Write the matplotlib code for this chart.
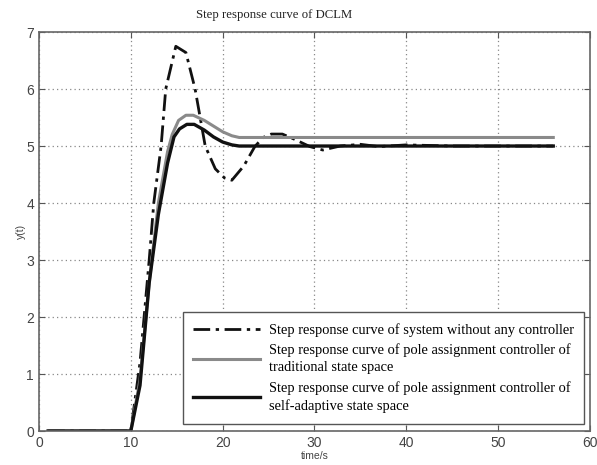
import numpy as np
import matplotlib
matplotlib.use('Agg')
import matplotlib.pyplot as plt

# step responses
t_open = [1, 10, 11, 12, 12.5, 13.3, 13.8, 14.9, 16.0, 17.0, 18.1, 19.2, 20.2, 21.0,
          22.3, 23.5, 24.4, 25.3, 26.5, 27.8, 29.5, 30.9, 32.8, 35, 37, 40, 45, 56]
y_open = [0, 0, 1.2, 3.0, 4.0, 5.0, 6.0, 6.75, 6.64, 6.0, 5.0, 4.6, 4.44, 4.40,
          4.65, 4.99, 5.15, 5.21, 5.21, 5.12, 4.99, 4.93, 5.0, 5.03, 4.99, 5.02, 5.0, 5.0]

t_trad = [1, 10, 11, 12, 13, 14, 14.5, 15.2, 16.0, 16.8, 18, 19, 20, 21, 21.8, 56]
y_trad = [0, 0, 0.9, 2.6, 4.0, 4.9, 5.2, 5.45, 5.54, 5.54, 5.45, 5.35, 5.25, 5.18, 5.15, 5.15]

t_adap = [1, 10, 11, 12, 13, 14, 14.7, 15.3, 16.1, 16.9, 18, 19, 20, 21, 21.8, 56]
y_adap = [0, 0, 0.8, 2.6, 3.8, 4.7, 5.16, 5.3, 5.38, 5.38, 5.28, 5.16, 5.07, 5.02, 5.0, 5.0]

labels = ['Step response curve of system without any controller',
          'Step response curve of pole assignment controller of\ntraditional state space',
          'Step response curve of pole assignment controller of\nself-adaptive state space']

serif = ['Liberation Serif', 'DejaVu Serif']
sans = ['Liberation Sans', 'DejaVu Sans']

fig = plt.figure(figsize=(5.97, 4.65), dpi=100)
ax = fig.add_axes([0.0653, 0.0731, 0.9230, 0.858])

ax.plot(t_open, y_open, color='#111111', lw=2.0, linestyle=(0, (6, 2, 1.2, 2)), label=labels[0])
ax.plot(t_trad, y_trad, color='#8a8a8a', lw=2.2, label=labels[1])
ax.plot(t_adap, y_adap, color='#111111', lw=2.4, label=labels[2])

ax.set_xlim(0, 60)
ax.set_ylim(0, 7)
ax.set_xticks(np.arange(0, 61, 10))
ax.set_yticks(np.arange(0, 8, 1))
ax.grid(True, linestyle=(0, (1, 2.5)), color='#888888', lw=0.9)
ax.tick_params(direction='in', top=True, right=True, length=4, colors='#555555',
               labelsize=10, labelcolor='#444444')
for lab in ax.get_xticklabels() + ax.get_yticklabels():
    lab.set_family(sans)
for s in ax.spines.values():
    s.set_color('#666666')
    s.set_linewidth(1.2)

ax.set_xlabel('time/s', fontsize=7.5, family=sans, color='#444444', labelpad=1)
ax.set_ylabel('y(t)', fontsize=7.5, family=sans, color='#444444', labelpad=0)

fig.text(0.46, 0.968, 'Step response curve of DCLM', ha='center', va='center',
         fontsize=9.2, family=serif, color='#222222')

leg = ax.legend(loc='lower right', bbox_to_anchor=(0.995, 0.01), fancybox=False,
                framealpha=1, edgecolor='#555555', handlelength=4.6,
                prop={'family': serif, 'size': 10.4}, borderpad=0.75,
                labelspacing=0.45, handletextpad=0.6, borderaxespad=0.2)
leg.get_frame().set_linewidth(1.0)
for txt in leg.get_texts():
    txt.set_linespacing(1.45)

fig.savefig('out.png', dpi=100)
